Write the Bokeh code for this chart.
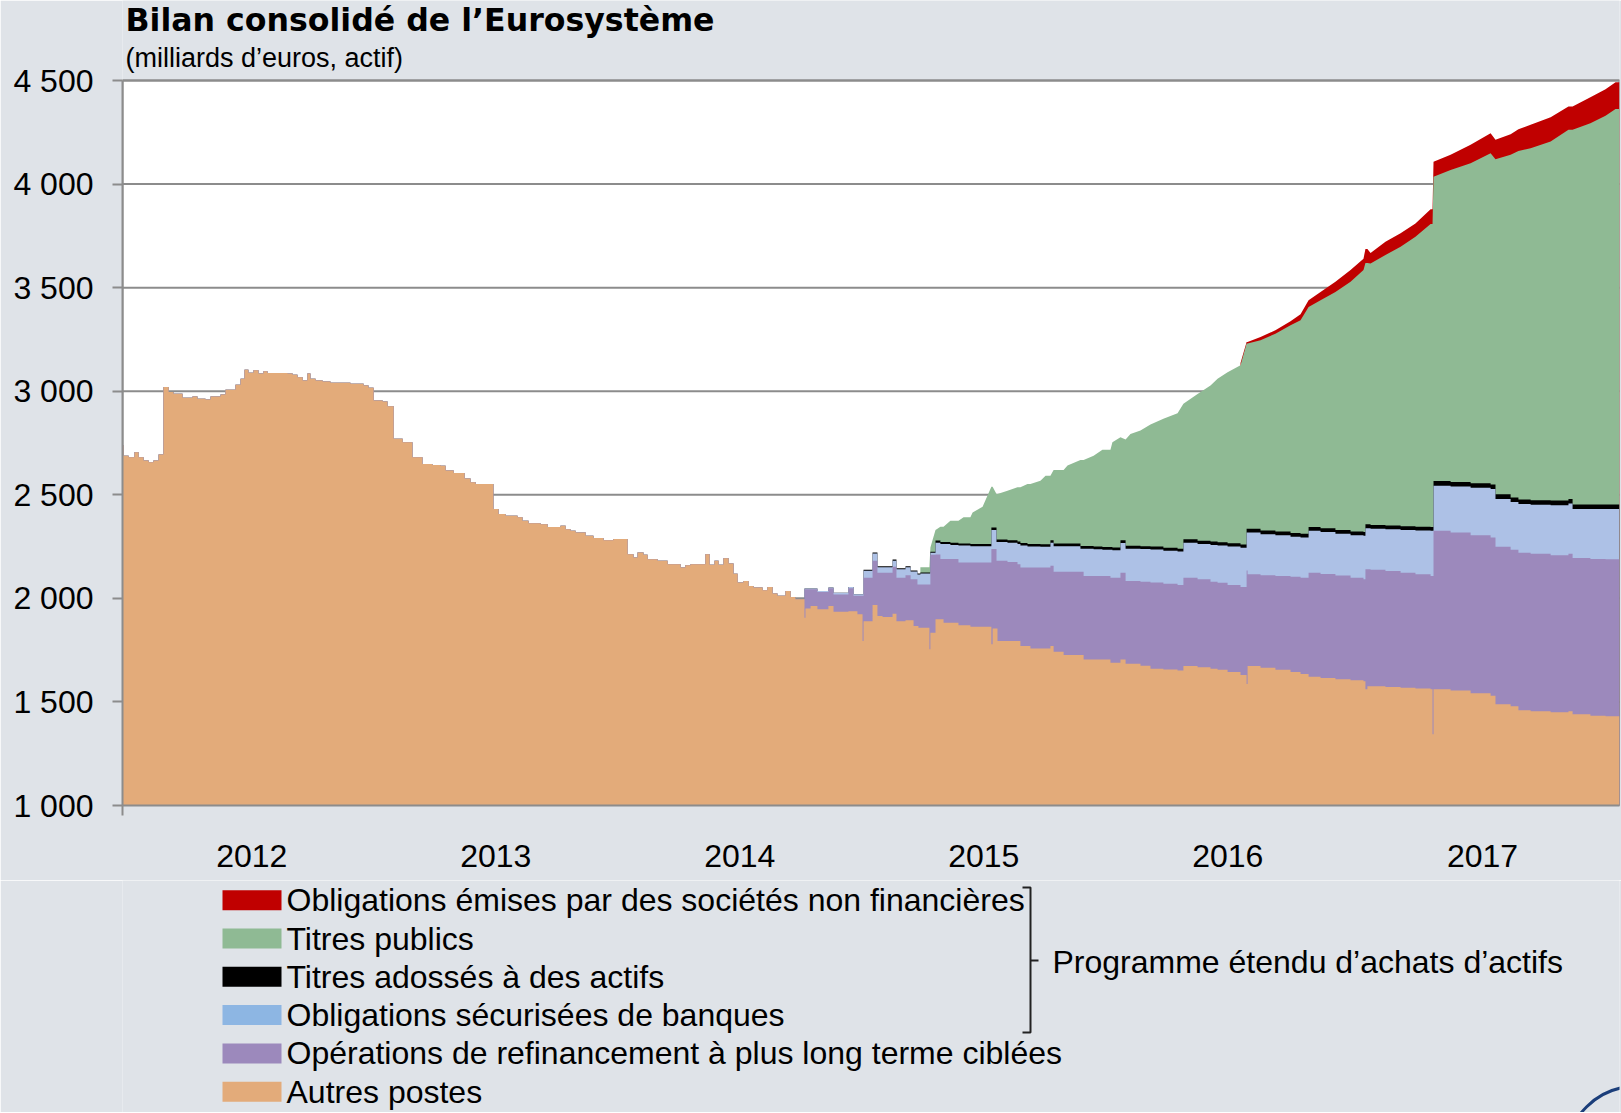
import numpy as np
from bokeh.plotting import figure
from bokeh.layouts import column
from bokeh.models import Range1d, FixedTicker
from bokeh.embed import file_html
from bokeh.resources import INLINE
from bokeh.core.properties import value

# ---------------- data (milliards d'euros), weekly steps, dates in fractional years ----------------
dates_avant = [
    2011.970, 2011.974, 2011.995, 2012.019, 2012.036, 2012.056, 2012.077, 2012.097, 2012.118, 2012.138,
    2012.159, 2012.179, 2012.216, 2012.257, 2012.277, 2012.310, 2012.331, 2012.372, 2012.392, 2012.433,
    2012.454, 2012.470, 2012.486, 2012.507, 2012.527, 2012.548, 2012.564, 2012.646, 2012.667, 2012.687,
    2012.708, 2012.728, 2012.740, 2012.761, 2012.790, 2012.822, 2012.904, 2012.958, 2012.978, 2012.999,
    2013.036, 2013.056, 2013.081, 2013.118, 2013.158, 2013.199, 2013.240, 2013.273, 2013.294, 2013.327,
    2013.372, 2013.396, 2013.417, 2013.490, 2013.511, 2013.540, 2013.589, 2013.609, 2013.634, 2013.683,
    2013.712, 2013.765, 2013.786, 2013.806, 2013.827, 2013.868, 2013.900, 2013.941, 2013.982, 2014.040,
    2014.064, 2014.081, 2014.105, 2014.122, 2014.163, 2014.204, 2014.257, 2014.277, 2014.298, 2014.359,
    2014.376, 2014.396, 2014.413, 2014.433, 2014.454, 2014.474, 2014.491, 2014.515, 2014.536, 2014.556,
    2014.593, 2014.613, 2014.634, 2014.654, 2014.687, 2014.708, 2014.728,
]
autres_avant = [
    2738, 2689, 2681, 2705, 2681, 2665, 2657, 2665, 2694, 3020,
    2996, 2988, 2968, 2975, 2964, 2960, 2975, 2984, 3007, 3031,
    3060, 3104, 3089, 3101, 3085, 3096, 3088, 3085, 3080, 3068,
    3052, 3085, 3060, 3052, 3047, 3041, 3036, 3028, 3017, 2955,
    2950, 2928, 2770, 2754, 2681, 2649, 2644, 2640, 2617, 2605,
    2579, 2560, 2552, 2431, 2407, 2399, 2391, 2375, 2362, 2358,
    2345, 2350, 2334, 2326, 2318, 2302, 2291, 2281, 2286, 2213,
    2197, 2221, 2210, 2189, 2181, 2165, 2149, 2160, 2165, 2213,
    2162, 2181, 2162, 2194, 2168, 2119, 2076, 2084, 2060, 2052,
    2039, 2055, 2023, 2012, 2036, 2007, 1996,
]

dates_apres = [
    2014.765, 2014.769, 2014.790, 2014.818, 2014.863, 2014.884, 2014.945, 2014.966, 2014.982, 2015.003,
    2015.007, 2015.044, 2015.064, 2015.085, 2015.126, 2015.142, 2015.179, 2015.200, 2015.212, 2015.228,
    2015.232, 2015.240, 2015.277, 2015.281, 2015.302, 2015.322, 2015.335, 2015.363, 2015.396, 2015.417,
    2015.445, 2015.454, 2015.495, 2015.531, 2015.536, 2015.552, 2015.556, 2015.597, 2015.638, 2015.650,
    2015.679, 2015.691, 2015.732, 2015.753, 2015.773, 2015.786, 2015.827, 2015.843, 2015.896, 2015.909,
    2015.950, 2015.986, 2016.019, 2016.027, 2016.060, 2016.081, 2016.101, 2016.142, 2016.183, 2016.236,
    2016.294, 2016.318, 2016.376, 2016.429, 2016.458, 2016.499, 2016.552, 2016.577, 2016.581, 2016.634,
    2016.695, 2016.757, 2016.798, 2016.831, 2016.880, 2016.941, 2017.003, 2017.056, 2017.064, 2017.072,
    2017.085, 2017.146, 2017.208, 2017.269, 2017.331, 2017.339, 2017.343, 2017.413, 2017.495, 2017.577,
    2017.597, 2017.659, 2017.691, 2017.741, 2017.823, 2017.896, 2017.913, 2017.986, 2018.048, 2018.089,
]
autres_apres = [
    1906, 1951, 1963, 1947, 1963, 1935, 1938, 1938, 1923, 1794,
    1890, 1968, 1915, 1910, 1926, 1890, 1894, 1894, 1866, 1866,
    1858, 1858, 1754, 1834, 1899, 1899, 1882, 1882, 1870, 1870,
    1863, 1863, 1863, 1779, 1855, 1855, 1794, 1794, 1794, 1770,
    1770, 1758, 1758, 1758, 1770, 1742, 1726, 1726, 1726, 1705,
    1705, 1705, 1689, 1689, 1705, 1684, 1684, 1675, 1660, 1657,
    1652, 1673, 1668, 1660, 1655, 1645, 1630, 1586, 1673, 1665,
    1655, 1645, 1635, 1622, 1616, 1610, 1605, 1600, 1561, 1576,
    1576, 1572, 1568, 1565, 1561, 1344, 1561, 1555, 1542, 1530,
    1489, 1479, 1460, 1455, 1450, 1455, 1440, 1433, 1431, 1431,
]
oplt_ciblees = [
    138, 93, 81, 84, 86, 84, 111, 74, 89, 218,
    210, 213, 209, 214, 226, 210, 218, 198, 226, 201,
    209, 209, 313, 376, 313, 291, 308, 308, 303, 303,
    310, 310, 310, 459, 383, 326, 387, 381, 371, 379,
    379, 391, 391, 391, 387, 387, 403, 403, 403, 403,
    403, 403, 411, 411, 419, 400, 400, 405, 416, 413,
    413, 427, 424, 420, 420, 420, 425, 549, 443, 447,
    453, 459, 465, 502, 502, 500, 495, 492, 579, 564,
    562, 560, 556, 551, 547, 764, 765, 763, 763, 764,
    760, 756, 760, 760, 758, 760, 755, 757, 758, 758,
]
obl_securisees = [
    4, 4, 4, 4, 4, 8, 6, 8, 8, 8,
    33, 35, 26, 26, 30, 40, 38, 38, 38, 48,
    48, 53, 53, 10, 57, 72, 72, 68, 82, 82,
    79, 79, 79, 92, 92, 91, 91, 93, 97, 106,
    101, 101, 100, 100, 111, 123, 123, 123, 111, 132,
    129, 127, 135, 132, 143, 156, 156, 158, 160, 160,
    161, 169, 170, 178, 180, 185, 189, 183, 202, 198,
    197, 194, 194, 202, 202, 202, 205, 210, 198, 198,
    198, 202, 206, 212, 218, 218, 218, 222, 229, 234,
    231, 230, 235, 237, 242, 243, 236, 241, 242, 242,
]
titres_adosses = [
    0, 0, 0, 0, 0, 0, 0, 0, 0, 0,
    5, 5, 5, 5, 5, 5, 5, 5, 5, 5,
    5, 5, 5, 5, 10, 10, 10, 10, 10, 10,
    10, 10, 10, 12, 12, 12, 12, 12, 12, 12,
    12, 12, 12, 12, 12, 13, 13, 13, 13, 13,
    13, 13, 13, 13, 14, 14, 14, 14, 14, 14,
    14, 16, 16, 16, 16, 16, 16, 18, 18, 18,
    18, 18, 18, 18, 18, 18, 18, 18, 20, 20,
    18, 18, 18, 18, 18, 18, 22, 22, 22, 22,
    22, 22, 22, 22, 22, 22, 22, 22, 22, 22,
]
titres_publics = [
    0, 0, 0, 0, 0, 0, 0, 0, 0, 0,
    0, 0, 0, 0, 0, 0, 0, 0, 0, 0,
    0, 25, 25, 20, 51, 74, 74, 107, 110, 126,
    129, 153, 180, 197, 197, 220, 220, 240, 262, 269,
    290, 290, 307, 331, 312, 355, 355, 376, 415, 415,
    439, 469, 469, 509, 497, 513, 540, 558, 589, 623,
    654, 654, 709, 754, 789, 826, 865, 894, 894, 918,
    955, 1002, 1031, 1062, 1101, 1149, 1205, 1265, 1261, 1261,
    1263, 1305, 1349, 1400, 1463, 1463, 1469, 1506, 1544, 1599,
    1618, 1654, 1683, 1699, 1733, 1782, 1809, 1841, 1877, 1909,
]
obl_societes = [
    0, 0, 0, 0, 0, 0, 0, 0, 0, 0,
    0, 0, 0, 0, 0, 0, 0, 0, 0, 0,
    0, 0, 0, 0, 0, 0, 0, 0, 0, 0,
    0, 0, 0, 0, 0, 0, 0, 0, 0, 0,
    0, 0, 0, 0, 0, 0, 0, 0, 0, 0,
    0, 0, 0, 0, 0, 0, 0, 0, 0, 0,
    0, 0, 0, 0, 0, 0, 11, 8, 8, 16,
    16, 20, 29, 33, 40, 49, 57, 55, 67, 67,
    50, 65, 65, 64, 71, 71, 73, 73, 90, 96,
    94, 100, 105, 113, 118, 113, 113, 125, 128, 130,
]
date_fin = 2018.105

legend_labels = [
    "Obligations émises par des sociétés non financières",
    "Titres publics",
    "Titres adossés à des actifs",
    "Obligations sécurisées de banques",
    "Opérations de refinancement à plus long terme ciblées",
    "Autres postes",
]
bracket_label = "Programme étendu d’achats d’actifs"
title_text = "Bilan consolidé de l’Eurosystème"
subtitle_text = "(milliards d’euros, actif)"
y_ticks = [1000, 1500, 2000, 2500, 3000, 3500, 4000, 4500]
y_tick_labels = ["1 000", "1 500", "2 000", "2 500", "3 000", "3 500", "4 000", "4 500"]
year_labels = ["2012", "2013", "2014", "2015", "2016", "2017"]
year_label_pos = [2012.5, 2013.5, 2014.5, 2015.5, 2016.5, 2017.544]

# ---------------- styles / layout ----------------
FONT = "Liberation Sans"
TITLE_FONT = "DejaVu Sans"
BG = "#DFE3E8"
GRID = "#8C8C8C"
area_colors = ["#E3AB7A", "#9C89BC", "#ADC1E6", "#000000", "#8FBA94", "#C00000"]  # bottom -> top
swatch_colors = ["#C00000", "#8FBA94", "#000000", "#8DB6E3", "#9C89BC", "#E3AB7A"]  # legend order

W = 1621
H_TOP = 880
H_LEG = 232
FRAME_L, FRAME_W = 122, 1497
PLOT_T, PLOT_B = 80, 805          # pixel rows of the 4 500 and 1 000 lines
PX_PER_YEAR = 244.0
X0 = 2011.97
X1 = X0 + FRAME_W / PX_PER_YEAR
UPP = 3500.0 / (PLOT_B - PLOT_T)  # value units per pixel
Y_TOP = 4500 + PLOT_T * UPP       # frame extends to the top of the canvas (title area)

# ---------------- build series ----------------
n_av = len(dates_avant)
zeros_av = [0] * n_av
dates = dates_avant + dates_apres
components = [
    autres_avant + autres_apres,
    zeros_av + oplt_ciblees,
    zeros_av + obl_securisees,
    zeros_av + titres_adosses,
    zeros_av + titres_publics,
    zeros_av + obl_societes,
]
comp = np.array(components, dtype=float)
cum = np.cumsum(comp, axis=0)
d_arr = np.array(dates, dtype=float)

edges = np.array(dates + [date_fin], dtype=float)
xs_step = np.repeat(edges, 2)[1:-1]

# ---------------- main chart ----------------
p = figure(width=W, height=H_TOP, output_backend="svg", toolbar_location=None, title=None,
           x_range=Range1d(X0, X1), y_range=Range1d(1000, Y_TOP),
           min_border_left=FRAME_L, min_border_right=W - FRAME_L - FRAME_W, min_border_top=0,
           min_border_bottom=H_TOP - PLOT_B)
p.background_fill_color = BG
p.border_fill_color = BG
p.outline_line_color = None
p.xgrid.visible = False
p.ygrid.visible = False

# plot area (white) with its border, then the horizontal grid lines
p.quad(left=[X0], right=[X1], bottom=[1000], top=[4500], fill_color="white",
       line_color=GRID, line_width=2)
p.segment(x0=[X0] * len(y_ticks), x1=[X1] * len(y_ticks), y0=y_ticks, y1=y_ticks,
          line_color=GRID, line_width=2)

# purchase programmes with gradual purchases (public sector, corporate): drawn point to point
for i in (5, 4):
    k = int(np.argmax(comp[i] > 0))
    xl = np.append(d_arr[k:], date_fin)
    yl = np.append(cum[i][k:], cum[i][-1])
    p.varea(x=xl, y1=np.zeros_like(yl), y2=yl, fill_color=area_colors[i], fill_alpha=1.0)

# other items: weekly step levels
for i in (3, 2, 1, 0):
    ys = np.repeat(cum[i], 2)
    p.varea(x=xs_step, y1=np.zeros_like(ys), y2=ys, fill_color=area_colors[i], fill_alpha=1.0)

p.yaxis.ticker = FixedTicker(ticks=y_ticks)
p.yaxis.bounds = (1000, 4500)
p.yaxis.major_label_overrides = {t: l for t, l in zip(y_ticks, y_tick_labels)}
p.yaxis.axis_line_color = GRID
p.yaxis.axis_line_width = 2
p.yaxis.major_tick_line_color = GRID
p.yaxis.major_tick_line_width = 2
p.yaxis.major_tick_out = 10
p.yaxis.major_tick_in = 0
p.yaxis.minor_tick_line_color = None
p.yaxis.major_label_standoff = 19
p.yaxis.major_label_text_font = FONT
p.yaxis.major_label_text_font_size = "32px"
p.yaxis.major_label_text_color = "black"

p.xaxis.ticker = FixedTicker(ticks=year_label_pos, minor_ticks=[X0 + 0.001])
p.xaxis.major_label_overrides = {t: l for t, l in zip(year_label_pos, year_labels)}
p.xaxis.axis_line_color = GRID
p.xaxis.axis_line_width = 2
p.xaxis.major_tick_line_color = None
p.xaxis.major_tick_out = 0
p.xaxis.minor_tick_line_color = GRID
p.xaxis.minor_tick_line_width = 2
p.xaxis.minor_tick_out = 10
p.xaxis.minor_tick_in = 0
p.xaxis.major_label_standoff = 29
p.xaxis.major_label_text_font = FONT
p.xaxis.major_label_text_font_size = "32px"
p.xaxis.major_label_text_color = "black"

# title and subtitle (vertical centres at pixel rows ~20 and ~57)
p.text(x=[X0 + 3 / PX_PER_YEAR], y=[4500 + (PLOT_T - 19.6) * UPP], text=[title_text],
       text_font=value(TITLE_FONT), text_font_size=value("31.6px"), text_font_style="bold",
       text_color="black", text_align="left", text_baseline="middle")
p.text(x=[X0 + 3 / PX_PER_YEAR], y=[4500 + (PLOT_T - 57) * UPP], text=[subtitle_text],
       text_font=value(FONT), text_font_size=value("27px"),
       text_color="black", text_align="left", text_baseline="middle")

# ---------------- legend panel (data coordinates = page pixels) ----------------
q = figure(width=W, height=H_LEG, output_backend="svg", toolbar_location=None, title=None,
           x_axis_location=None, y_axis_location=None,
           x_range=Range1d(FRAME_L, FRAME_L + FRAME_W), y_range=Range1d(H_LEG, 0),
           min_border=0, min_border_left=0, min_border_right=0, min_border_top=0, min_border_bottom=0)
q.grid.visible = False
q.outline_line_color = None
q.background_fill_color = BG
q.border_fill_color = BG

row_y = [19.7 + 38.3 * i for i in range(len(legend_labels))]
q.quad(left=[222] * 6, right=[281] * 6, top=[y - 10 for y in row_y], bottom=[y + 10 for y in row_y],
       fill_color=swatch_colors, line_color=None)
q.text(x=[286] * 6, y=row_y, text=legend_labels, text_font=value(FONT), text_font_size=value("32px"),
       text_color="black", text_align="left", text_baseline="middle")

q.multi_line(xs=[[1022, 1030, 1030, 1022], [1030, 1038]], ys=[[7, 7, 152, 152], [80, 80]],
             line_color="#222222", line_width=2)
q.text(x=[1052], y=[81], text=[bracket_label], text_font=value(FONT),
       text_font_size=value("32px"), text_color="black", text_align="left", text_baseline="middle")

q.circle(x=[1635], y=[275], radius=69, fill_color=None, line_color="#1B3E7A", line_width=3)

layout = column(p, q)
open("out.html", "w").write(file_html(layout, INLINE))
